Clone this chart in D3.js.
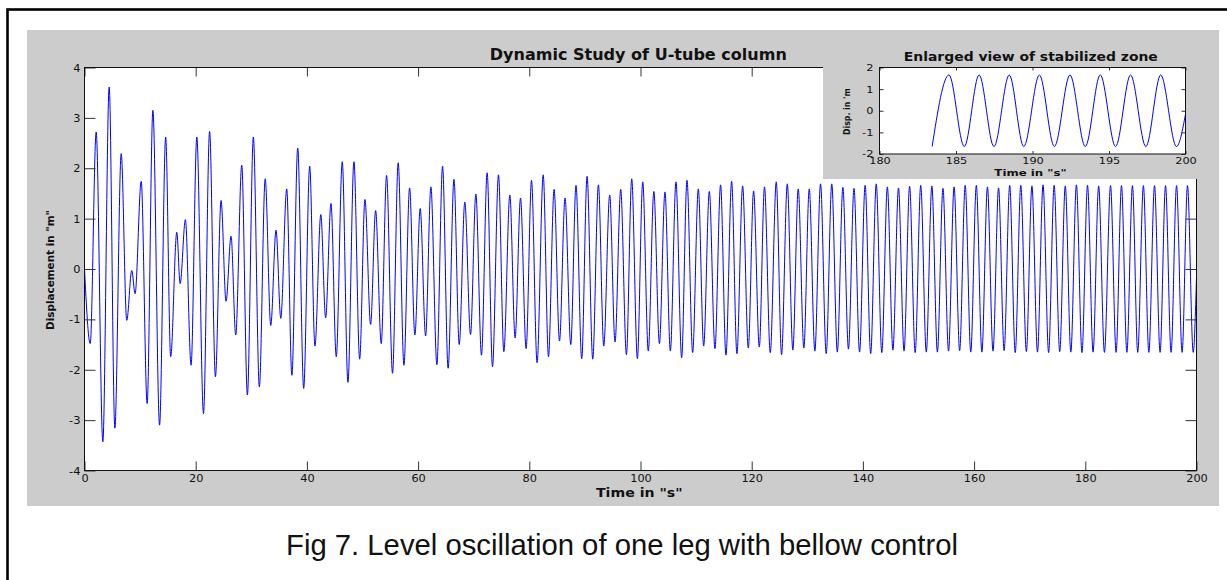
<!DOCTYPE html>
<html>
<head>
<meta charset="utf-8">
<script src="https://cdn.jsdelivr.net/npm/d3@7"></script>
<style>
  body { margin: 0; background: #fff; }
  svg { display: block; }
  .tick text { font-family: "DejaVu Sans", sans-serif; fill: #111; }
  .tick line { stroke: #333; }
  .lbl { font-family: "DejaVu Sans", sans-serif; font-weight: bold; fill: #111; }
</style>
</head>
<body>
<svg id="fig" width="1227" height="580"></svg>
<script>
// extrema of the displacement trace (time in s, displacement in m)
const peakTimes = [2.1, 4.44, 6.6, 8.5, 10.2, 12.3, 14.6, 16.6, 18.15, 20.2, 22.5, 24.56, 26.36, 28.28, 30.37, 32.5,
  34.45, 36.37, 38.35, 40.5, 42.5, 44.33, 46.36, 48.46, 50.44, 52.36, 54.33, 56.42, 58.47, 60.38, 62.3, 64.4, 66.45,
  68.4, 70.39, 72.42, 74.46, 76.5, 78.42, 80.4, 82.5, 84.46, 86.43, 88.4, 90.39, 92.43, 94.46, 96.44, 98.42,
  100.4, 102.4, 104.4, 106.38, 108.36, 110.4, 112.38, 114.4, 116.39, 118.37, 120.34, 122.3, 124.42, 126.4, 128.37, 130.35, 132.38,
  134.4, 136.4, 138.4, 140.4, 142.4, 144.4, 146.4, 148.4, 150.4, 152.4, 154.4, 156.4, 158.4, 160.4, 162.4, 164.4, 166.4,
  168.4, 170.4, 172.4, 174.4, 176.4, 178.4, 180.4, 182.4,
  184.54, 186.51, 188.48, 190.45, 192.45, 194.43, 196.41, 198.38];
const peakValues = [2.72, 3.61, 2.29, -0.03, 1.74, 3.15, 2.62, 0.73, 0.98, 2.62, 2.73, 1.36, 0.65, 2.06, 2.62, 1.79,
  0.77, 1.59, 2.4, 2.04, 1.08, 1.3, 2.13, 2.13, 1.38, 1.16, 1.86, 2.11, 1.61, 1.2, 1.63, 2.04, 1.78,
  1.33, 1.49, 1.91, 1.87, 1.47, 1.41, 1.76, 1.87, 1.58, 1.41, 1.66, 1.84, 1.67, 1.47, 1.58, 1.79,
  1.73, 1.54, 1.53, 1.73, 1.76, 1.59, 1.54, 1.67, 1.74, 1.65, 1.55, 1.63, 1.73, 1.69, 1.59, 1.59, 1.69,
  1.69, 1.62, 1.6, 1.66, 1.69, 1.63, 1.61, 1.64, 1.66, 1.65, 1.6, 1.63, 1.66, 1.66, 1.63, 1.61, 1.66,
  1.66, 1.65, 1.67, 1.66, 1.65, 1.67, 1.66, 1.65,
  1.655, 1.655, 1.655, 1.655, 1.655, 1.655, 1.655, 1.655];

const troughTimes = [1.03, 3.3, 5.46, 7.6, 9.1, 11.27, 13.5, 15.5, 17.2, 19.17, 21.4, 23.55, 25.46, 27.2, 29.3, 31.45,
  33.5, 35.3, 37.3, 39.42, 41.45, 43.37, 45.28, 47.38, 49.49, 51.46, 53.37, 55.4, 57.45, 59.42, 61.35, 63.38, 65.4,
  67.4, 69.43, 71.4, 73.38, 75.42, 77.45, 79.43, 81.4, 83.45, 85.43, 87.46, 89.43, 91.41, 93.39, 95.42, 97.47, 99.44,
  101.4, 103.4, 105.37, 107.4, 109.38, 111.36, 113.39, 115.37, 117.34, 119.39, 121.37, 123.34, 125.37, 127.4, 129.38, 131.36,
  133.4, 135.4, 137.4, 139.4, 141.4, 143.4, 145.4, 147.4, 149.4, 151.4, 153.4, 155.4, 157.4, 159.4, 161.4, 163.4, 165.4,
  167.4, 169.4, 171.4, 173.4, 175.4, 177.4, 179.4, 181.4,
  183.44, 185.54, 187.48, 189.43, 191.43, 193.45, 195.43, 197.41, 199.41];
const troughValues = [-1.48, -3.43, -3.16, -1.02, -0.49, -2.67, -3.1, -1.74, -0.29, -1.91, -2.87, -2.14, -0.64, -1.31, -2.5, -2.34,
  -1.12, -0.98, -2.11, -2.37, -1.53, -0.97, -1.74, -2.25, -1.79, -1.1, -1.48, -2.07, -1.91, -1.31, -1.33, -1.9, -1.97,
  -1.5, -1.3, -1.71, -1.94, -1.64, -1.37, -1.58, -1.86, -1.74, -1.43, -1.5, -1.78, -1.79, -1.53, -1.45, -1.7, -1.78,
  -1.63, -1.48, -1.63, -1.76, -1.66, -1.53, -1.58, -1.71, -1.68, -1.57, -1.55, -1.66, -1.7, -1.61, -1.57, -1.63,
  -1.68, -1.65, -1.59, -1.65, -1.68, -1.66, -1.61, -1.63, -1.66, -1.65, -1.65, -1.63, -1.62, -1.65, -1.65, -1.63, -1.62,
  -1.66, -1.64, -1.65, -1.66, -1.64, -1.65, -1.66, -1.65,
  -1.655, -1.655, -1.655, -1.655, -1.655, -1.655, -1.655, -1.655, -1.655];

// first and last samples of the run
const edgeTimes = [0, 200];
const edgeValues = [0, -0.16];

const mainXTicks = [0, 20, 40, 60, 80, 100, 120, 140, 160, 180, 200];
const mainYTicks = [-4, -3, -2, -1, 0, 1, 2, 3, 4];
const insetXTicks = [180, 185, 190, 195, 200];
const insetYTicks = [-2, -1, 0, 1, 2];

const svg = d3.select('#fig');

let points = [];
peakTimes.forEach((t, i) => points.push({ t: t, v: peakValues[i] }));
troughTimes.forEach((t, i) => points.push({ t: t, v: troughValues[i] }));
edgeTimes.forEach((t, i) => points.push({ t: t, v: edgeValues[i] }));
points.sort((a, b) => a.t - b.t);

// outer frame and matlab figure background
svg.append('rect').attr('x', 7.5).attr('y', 9.5).attr('width', 1240).attr('height', 600)
  .attr('fill', '#fff').attr('stroke', '#000').attr('stroke-width', 2.6);
svg.append('rect').attr('x', 27).attr('y', 30).attr('width', 1192).attr('height', 476).attr('fill', '#cccccc');

// stretch tick text like the printed matlab labels
function stretch(perDigit) {
  return function () {
    let w = 0;
    for (const c of this.textContent) w += (c === '-') ? perDigit * 0.6 : perDigit;
    d3.select(this).attr('textLength', w).attr('lengthAdjust', 'spacingAndGlyphs');
  };
}

function drawPanel(opts) {
  const x = d3.scaleLinear().domain(opts.xDomain).range(opts.xRange);
  const y = d3.scaleLinear().domain(opts.yDomain).range(opts.yRange);
  const x0 = opts.xRange[0], x1 = opts.xRange[1], y0 = opts.yRange[1], y1 = opts.yRange[0];
  const g = svg.append('g');

  g.append('rect').attr('x', x0).attr('y', y0).attr('width', x1 - x0).attr('height', y1 - y0).attr('fill', '#fff');

  const clipId = 'clip-' + opts.name;
  g.append('clipPath').attr('id', clipId)
    .append('rect').attr('x', x0).attr('y', y0).attr('width', x1 - x0).attr('height', y1 - y0);

  const line = d3.line().x(d => x(d.t)).y(d => y(d.v)).curve(d3.curveMonotoneX);
  g.append('path')
    .datum(opts.data)
    .attr('clip-path', 'url(#' + clipId + ')')
    .attr('fill', 'none')
    .attr('stroke', '#0000ff')
    .attr('stroke-width', 1)
    .attr('d', line);

  const fmt = d => String(d);
  const bottom = g.append('g').attr('transform', 'translate(0,' + y1 + ')')
    .call(d3.axisBottom(x).tickValues(opts.xTicks).tickSizeInner(-opts.xTickLen).tickSizeOuter(0).tickFormat(fmt));
  bottom.selectAll('text').attr('dy', null).attr('y', opts.xLabelOffset)
    .style('font-size', opts.tickFont + 'px').each(stretch(opts.digitW));
  const top = g.append('g').attr('transform', 'translate(0,' + y0 + ')')
    .call(d3.axisTop(x).tickValues(opts.xTicks).tickSizeInner(-opts.xTickLen).tickSizeOuter(0).tickFormat(''));
  const left = g.append('g').attr('transform', 'translate(' + x0 + ',0)')
    .call(d3.axisLeft(y).tickValues(opts.yTicks).tickSizeInner(-opts.yTickLen).tickSizeOuter(0).tickPadding(opts.yPad).tickFormat(fmt));
  left.selectAll('text').attr('dy', '0.36em')
    .style('font-size', opts.tickFont + 'px').each(stretch(opts.digitW));
  const right = g.append('g').attr('transform', 'translate(' + x1 + ',0)')
    .call(d3.axisRight(y).tickValues(opts.yTicks).tickSizeInner(-opts.yTickLen).tickSizeOuter(0).tickFormat(''));
  [bottom, top, left, right].forEach(a => a.select('.domain').remove());

  g.append('rect').attr('x', x0).attr('y', y0).attr('width', x1 - x0).attr('height', y1 - y0)
    .attr('fill', 'none').attr('stroke', '#111').attr('stroke-width', 1);
  return g;
}

// main axes
drawPanel({
  name: 'main', data: points,
  xDomain: [0, 200], xRange: [84.5, 1196.5],
  yDomain: [-4, 4], yRange: [470.5, 67.5],
  xTicks: mainXTicks, yTicks: mainYTicks,
  xTickLen: 9, yTickLen: 11, xLabelOffset: 11, yPad: 4,
  tickFont: 10, digitW: 7.2
});

// inset figure sits on its own grey patch
svg.append('rect').attr('x', 823).attr('y', 30).attr('width', 396).attr('height', 149).attr('fill', '#cccccc');

drawPanel({
  name: 'inset', data: points.filter(d => d.t >= 183.4),
  xDomain: [180, 200], xRange: [879.5, 1185.5],
  yDomain: [-2, 2], yRange: [154, 67.5],
  xTicks: insetXTicks, yTicks: insetYTicks,
  xTickLen: 3, yTickLen: 4, xLabelOffset: 10, yPad: 6,
  tickFont: 8, digitW: 7.2
});

// titles and labels
function label(txt, x, y, size, len, rot) {
  const t = svg.append('text').attr('class', 'lbl')
    .attr('transform', 'translate(' + x + ',' + y + ')' + (rot ? ' rotate(-90)' : ''))
    .attr('text-anchor', 'middle')
    .style('font-size', size + 'px')
    .text(txt);
  if (len) t.attr('textLength', len).attr('lengthAdjust', 'spacingAndGlyphs');
  return t;
}

label('Dynamic Study of U-tube column', 638.3, 60, 15, 297);
label('Time in "s"', 639.3, 496.7, 11.5, 86.7);
label('Displacement in "m"', 53.5, 270, 11, 120, true);
label('Enlarged view of stabilized zone', 1030.8, 60.7, 12.5, 254);
label('Time in "s"', 1030.5, 175.7, 9.5, 72.3);
label("Disp. in 'm", 850, 111.7, 9.5, 46.7, true);

svg.append('text')
  .attr('x', 622).attr('y', 555)
  .attr('text-anchor', 'middle')
  .attr('textLength', 672).attr('lengthAdjust', 'spacingAndGlyphs')
  .style('font-family', '"Liberation Sans", Arial, sans-serif')
  .style('font-size', '29.5px')
  .style('fill', '#111')
  .text('Fig 7. Level oscillation of one leg with bellow control');
</script>
</body>
</html>
